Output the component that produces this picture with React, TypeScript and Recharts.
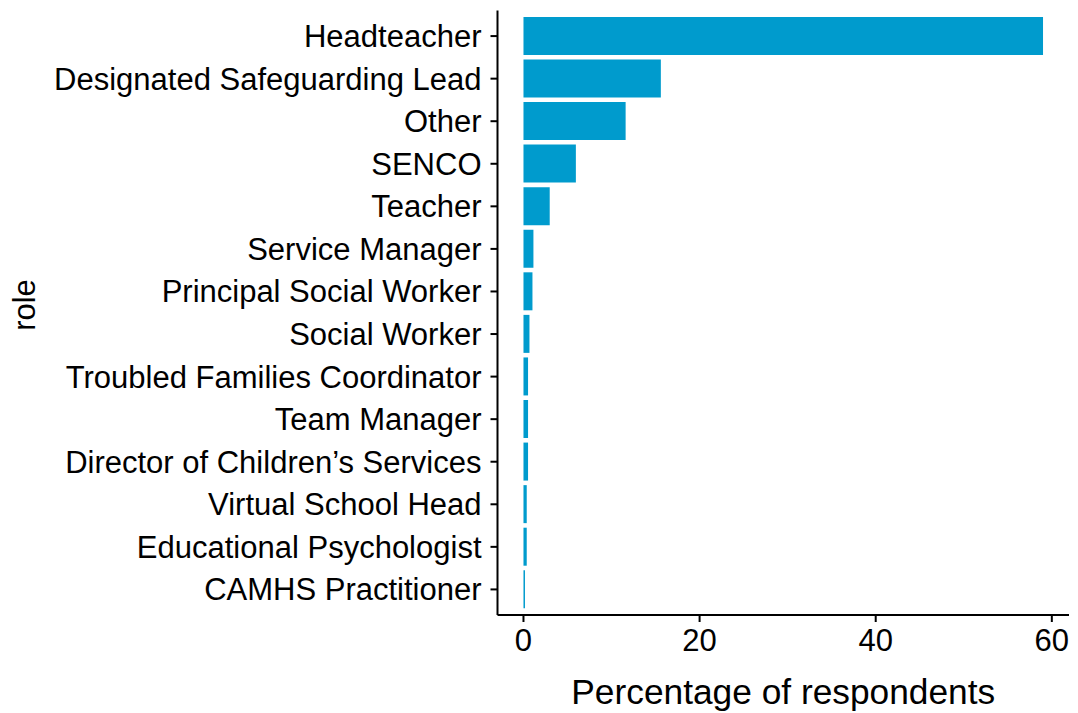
import React from "react";
import { BarChart, Bar, XAxis, YAxis, Label } from "recharts";

// roles, top to bottom as drawn
const roles = [
  "Headteacher",
  "Designated Safeguarding Lead",
  "Other",
  "SENCO",
  "Teacher",
  "Service Manager",
  "Principal Social Worker",
  "Social Worker",
  "Troubled Families Coordinator",
  "Team Manager",
  "Director of Children’s Services",
  "Virtual School Head",
  "Educational Psychologist",
  "CAMHS Practitioner",
];

// percentage of respondents per role
const percentages = [59.0, 15.6, 11.6, 5.95, 2.98, 1.13, 1.02, 0.68, 0.52, 0.52, 0.52, 0.37, 0.37, 0.17];

const xTicks = [0, 20, 40, 60];

const data = roles.map((role, i) => ({ role, pct: percentages[i] }));

const FONT = '"Liberation Sans", Arial, sans-serif';
const BAR_COLOR = "#009BCD";

const App: React.FC = () => {
  return (
    <div style={{ position: "absolute", left: 0, top: 0, background: "#fff", fontFamily: FONT }}>
      <BarChart
        width={1078}
        height={713}
        data={data}
        layout="vertical"
        margin={{ top: 10.5, right: 9, left: 0, bottom: 0 }}
        barCategoryGap="5%"
      >
        <XAxis
          type="number"
          dataKey="pct"
          domain={[-2.95, 61.95]}
          ticks={xTicks}
          allowDataOverflow
          height={98}
          tickSize={7}
          tickMargin={6.5}
          stroke="#000"
          strokeWidth={2}
          tick={{ fill: "#000", fontSize: 31, fontFamily: FONT }}
          tickLine={{ stroke: "#000", strokeWidth: 2 }}
        >
          <Label
            content={({ viewBox }: any) => (
              <text
                x={viewBox.x + viewBox.width / 2}
                y={704}
                textAnchor="middle"
                fontSize={35.3}
                fontFamily={FONT}
                fill="#000"
              >
                Percentage of respondents
              </text>
            )}
          />
        </XAxis>
        <YAxis
          type="category"
          dataKey="role"
          width={497.5}
          padding={{ top: 4.3, bottom: 4.3 }}
          tickSize={7}
          tickMargin={9}
          stroke="#000"
          strokeWidth={2}
          interval={0}
          tick={{ fill: "#000", fontSize: 31, fontFamily: FONT }}
          tickLine={{ stroke: "#000", strokeWidth: 2 }}
        >
          <Label
            content={() => (
              <text
                x={35}
                y={305}
                transform="rotate(-90, 35, 305)"
                textAnchor="middle"
                fontSize={31}
                fontFamily={FONT}
                fill="#000"
              >
                role
              </text>
            )}
          />
        </YAxis>
        <Bar dataKey="pct" fill={BAR_COLOR} isAnimationActive={false} />
      </BarChart>
    </div>
  );
};

export default App;
